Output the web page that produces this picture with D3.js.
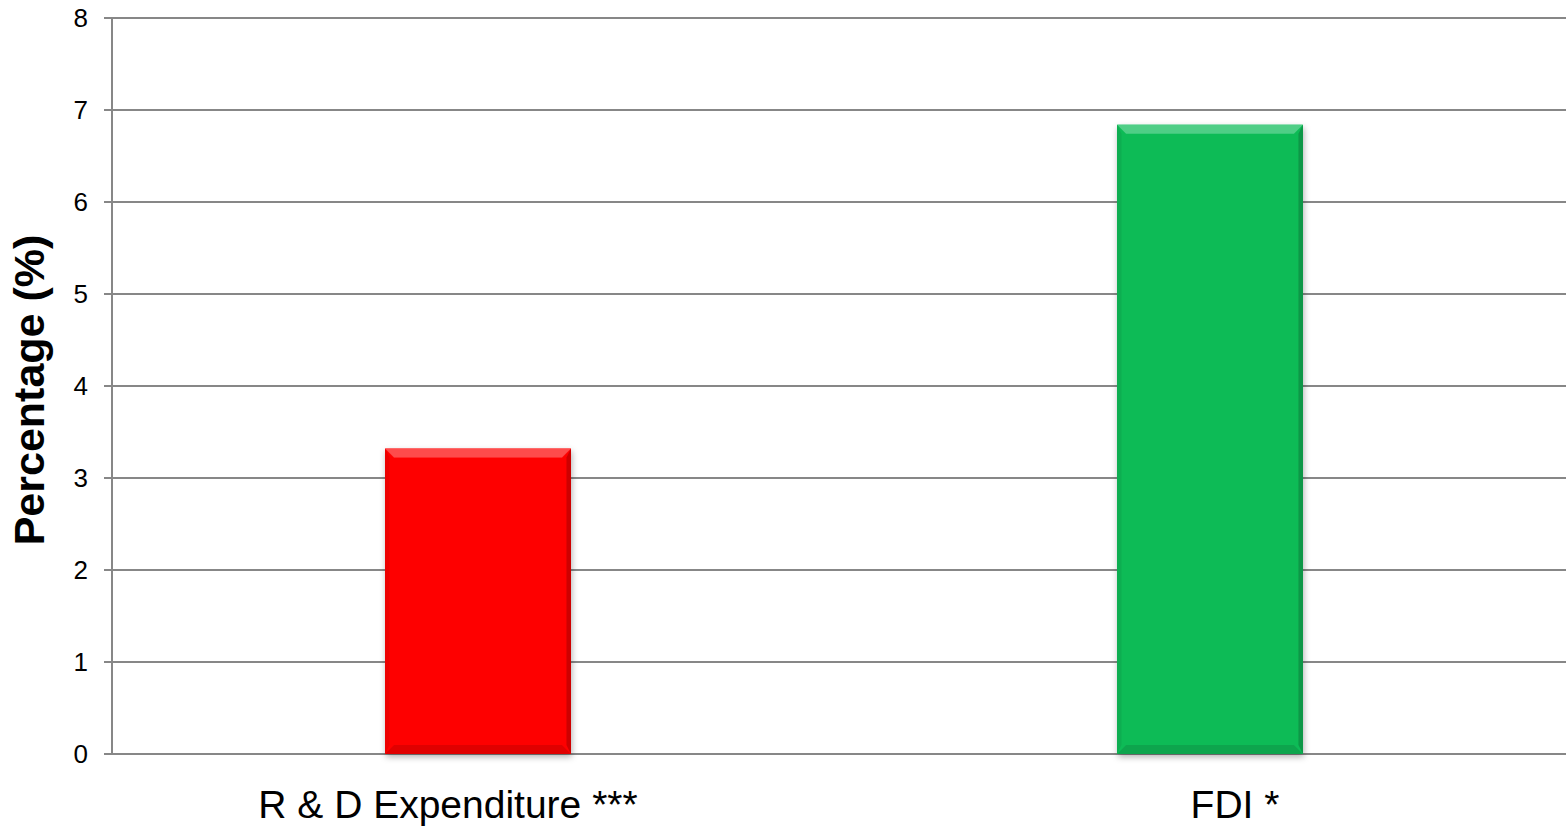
<!DOCTYPE html>
<html><head><meta charset="utf-8">
<script src="https://cdn.jsdelivr.net/npm/d3@7"></script>
<style>
html,body{margin:0;padding:0;background:#fff;overflow:hidden}
text{font-family:"Liberation Sans",Arial,sans-serif}
</style></head>
<body>
<svg id="chart" width="1566" height="826"></svg>
<script>
const categories = ["R & D Expenditure ***", "FDI *"];
const values = [3.32, 6.84];
const barColors = ["#fe0606", "#0bbb57"];
const yTicks = [0, 1, 2, 3, 4, 5, 6, 7, 8];
const yTitle = "Percentage (%)";

(function(){
const svg = d3.select("#chart");
const W = 1566, H = 826;
const mLeft = 112, mRight = 1576, mTop = 18, mBottom = 754;
const labelShift = [-30, 25];

const x = d3.scaleBand().domain(categories).range([mLeft, mRight]).paddingInner(0.746).paddingOuter(0.373);
const y = d3.scaleLinear().domain([0, 8]).range([mBottom, mTop]);

const defs = svg.append("defs");
const f = defs.append("filter").attr("id","shadow").attr("x","-10%").attr("y","-10%").attr("width","130%").attr("height","130%");
f.append("feDropShadow").attr("dx",1).attr("dy",3).attr("stdDeviation",3).attr("flood-color","#000").attr("flood-opacity",0.3);

// gridlines
svg.append("g").selectAll("line").data(yTicks).join("line")
  .attr("x1", mLeft - 8).attr("x2", W).attr("y1", d => y(d)).attr("y2", d => y(d))
  .attr("stroke", "#878787").attr("stroke-width", 2);
// y axis line
svg.append("line").attr("x1", mLeft).attr("x2", mLeft).attr("y1", y(8)).attr("y2", y(0))
  .attr("stroke", "#878787").attr("stroke-width", 2);

// tick labels
svg.append("g").selectAll("text").data(yTicks).join("text")
  .attr("x", 88).attr("y", d => y(d)).attr("dy", "0.36em")
  .attr("text-anchor", "end").attr("font-size", 26).attr("fill", "#000")
  .text(d => d);

// y title
svg.append("text")
  .attr("transform", `translate(${44},${390}) rotate(-90)`)
  .attr("text-anchor", "middle").attr("font-size", 43).attr("font-weight", "bold")
  .text(yTitle);

// bars
const data = categories.map((c, i) => ({c, v: values[i], col: barColors[i]}));
const g = svg.append("g");
data.forEach(d => {
  const bx = x(d.c), bw = x.bandwidth(), by = y(d.v), bh = y(0) - y(d.v);
  const base = d3.color(d.col);
  const bg = g.append("g").attr("filter","url(#shadow)");
  bg.append("rect").attr("x", bx).attr("y", by).attr("width", bw).attr("height", bh).attr("fill", d.col);
  const b = 9;
  bg.append("polygon").attr("points", [[bx,by],[bx+bw,by],[bx+bw-b,by+b],[bx+b,by+b]].join(" "))
    .attr("fill", d3.interpolateRgb(d.col, "#ffffff")(0.28));
  bg.append("polygon").attr("points", [[bx,by],[bx+b*0.5,by+b],[bx+b*0.5,by+bh-b],[bx,by+bh]].join(" "))
    .attr("fill", base.darker(0.2));
  bg.append("polygon").attr("points", [[bx+bw,by],[bx+bw-b*0.5,by+b],[bx+bw-b*0.5,by+bh-b],[bx+bw,by+bh]].join(" "))
    .attr("fill", base.darker(0.6));
  bg.append("polygon").attr("points", [[bx,by+bh],[bx+bw,by+bh],[bx+bw-b,by+bh-b],[bx+b,by+bh-b]].join(" "))
    .attr("fill", base.darker(0.35));
});

// category labels
svg.append("g").selectAll("text").data(categories).join("text")
  .attr("x", (d, i) => x(d) + x.bandwidth()/2 + labelShift[i]).attr("y", 818)
  .attr("text-anchor", "middle").attr("font-size", 39).attr("fill", "#000")
  .text(d => d);
})();
</script>
</body></html>
